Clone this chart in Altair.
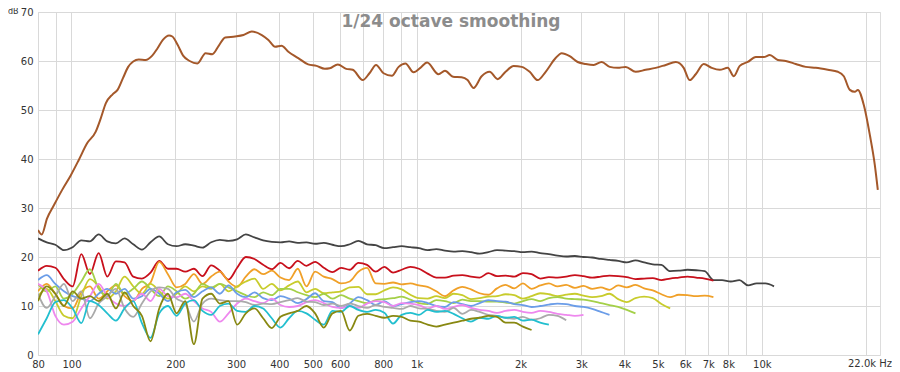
import altair as alt
import pandas as pd

# ---------------- data ----------------
# 1/12-octave frequency grid (Hz) shared by the measurement traces
freq_grid = [80, 84.8, 89.8, 95.1, 100.8, 106.8, 113.1, 119.9, 127.0, 134.5, 142.5, 151.0,
             160.0, 169.5, 179.6, 190.3, 201.6, 213.6, 226.3, 239.7, 254.0, 269.1, 285.1, 302.0,
             320.0, 339.0, 359.2, 380.5, 403.2, 427.1, 452.5, 479.5, 508.0, 538.2, 570.2, 604.1,
             640.0, 678.0, 718.4, 761.1, 806.3, 854.3, 905.1, 958.9, 1016, 1076, 1140, 1208,
             1280, 1356, 1437, 1522, 1613, 1709, 1810, 1918, 2032, 2153, 2281, 2416,
             2560, 2712, 2874, 3044, 3225, 3417, 3620, 3836, 4064, 4305, 4561, 4833,
             5120, 5424, 5747, 6089, 6451, 6834, 7241, 7671, 8127, 8611, 9123, 9665,
             10240, 10850]

dark_gray = [23.8, 23.0, 22.5, 21.4, 22.0, 23.4, 23.2, 24.6, 23.2, 22.8, 23.8, 22.6,
             21.5, 23.0, 24.2, 22.6, 22.2, 22.6, 22.3, 21.9, 23.0, 23.5, 23.3, 23.6,
             24.6, 24.0, 23.4, 23.1, 23.0, 23.2, 22.9, 23.0, 22.7, 22.9, 22.5, 22.2,
             22.6, 23.3, 22.6, 22.4, 21.8, 22.0, 22.2, 22.0, 21.8, 21.4, 21.6, 21.3,
             21.1, 21.2, 21.0, 20.7, 21.0, 21.4, 21.3, 21.2, 21.0, 21.1, 20.8, 20.6,
             20.3, 20.1, 20.2, 20.0, 19.9, 19.6, 19.4, 19.2, 18.9, 19.3, 18.9, 18.5,
             18.4, 17.1, 17.2, 17.4, 17.3, 17.1, 15.3, 15.3, 15.0, 15.3, 14.2, 14.6,
             14.6, 14.0]

red = [17.2, 18.2, 17.8, 15.5, 14.0, 20.6, 16.5, 20.8, 16.0, 19.1, 18.9, 16.0,
       15.6, 16.8, 19.2, 17.6, 17.6, 17.0, 17.6, 16.1, 18.3, 17.2, 15.4, 17.8,
       20.0, 19.6, 18.4, 17.5, 18.8, 17.7, 19.2, 18.2, 19.0, 17.8, 16.9, 17.8,
       17.4, 18.8, 18.4, 17.0, 18.0, 16.8, 17.4, 18.0, 17.6, 16.6, 15.8, 15.8,
       16.2, 16.3, 16.0, 15.8, 16.7, 16.1, 16.2, 16.0, 16.7, 16.5, 15.6, 15.9,
       15.8, 16.0, 16.3, 16.1, 15.8, 16.0, 16.2, 16.1, 15.9, 15.5, 15.6, 15.7,
       15.3, 15.6, 15.8, 16.0, 15.8, 15.6, 15.2]

orange = [13.0, 14.5, 12.5, 10.0, 9.5, 12.8, 14.0, 11.5, 13.0, 14.2, 12.0, 11.0,
          13.5, 14.8, 19.0, 16.5, 13.8, 14.5, 16.5, 14.5, 16.0, 17.0, 15.0, 13.9,
          16.0, 17.5, 16.5, 17.2, 15.8, 15.3, 17.6, 14.0, 17.0, 16.0, 15.5, 14.6,
          15.0, 17.0, 17.8, 14.6, 14.5, 14.8, 14.4, 14.6, 14.2, 13.9, 13.0, 12.0,
          13.2, 13.9, 13.4, 12.6, 12.3, 13.6, 14.3, 13.6, 14.6, 13.5, 14.2, 14.6,
          14.0, 14.3, 13.7, 14.1, 13.5, 13.8, 13.3, 14.2, 13.8, 14.3, 13.6, 13.2,
          12.4, 11.8, 12.3, 12.2, 12.0, 12.1, 11.8]

yellow = [12.0, 13.5, 11.0, 8.0, 7.5, 12.0, 15.5, 14.0, 11.5, 13.0, 16.0, 14.0,
          12.5, 14.5, 13.0, 11.5, 12.5, 14.0, 13.0, 14.0, 13.5, 14.5, 13.0, 14.0,
          15.0, 15.6, 13.5, 14.5, 13.2, 14.2, 15.0, 12.8, 13.5, 12.6, 12.8, 13.0,
          13.8, 13.9, 12.4, 12.4, 13.2, 13.8, 13.4, 12.3, 11.6, 11.5, 12.0, 11.6,
          12.5, 12.2, 11.4, 11.6, 11.9, 12.0, 12.4, 12.2, 11.5, 12.0, 12.6, 12.4,
          12.0, 12.3, 12.5, 12.1, 11.8, 12.0, 12.5, 11.4, 10.8, 11.6, 11.9, 11.6,
          10.4, 9.5]

lime = [14.5, 13.0, 14.0, 11.5, 12.5, 15.0, 17.5, 13.5, 12.0, 14.5, 12.5, 13.5,
        15.0, 13.5, 12.0, 14.0, 13.0, 11.5, 12.5, 14.5, 13.8, 14.5, 13.8, 13.0,
        12.2, 11.8, 12.8, 12.2, 13.5, 13.5, 12.8, 12.2, 11.8, 12.5, 11.5, 12.2,
        11.5, 11.0, 10.6, 11.2, 11.4, 11.6, 11.9, 11.3, 10.6, 10.4, 11.2, 11.0,
        10.6, 11.3, 11.0, 11.0, 10.9, 10.9, 10.7, 10.5, 11.0, 11.4, 11.0, 11.6,
        11.8, 11.5, 11.4, 11.3, 11.0, 10.6, 10.2, 9.8, 9.2, 8.5]

blue = [15.3, 16.3, 14.5, 13.0, 12.0, 11.5, 11.0, 12.5, 13.5, 12.5, 13.5, 11.5,
        12.0, 13.5, 12.5, 11.0, 12.8, 13.3, 11.8, 13.0, 13.8, 12.5, 14.2, 12.5,
        11.8, 12.8, 11.6, 11.2, 12.0, 11.5, 10.6, 11.4, 12.6, 11.0, 10.8, 9.6,
        10.5, 11.8, 11.2, 10.2, 11.0, 10.0, 10.4, 10.8, 11.0, 10.6, 10.0, 9.8,
        10.8, 10.4, 10.0, 10.6, 11.2, 11.0, 10.9, 10.4, 10.2, 9.8, 10.0, 10.3,
        10.5, 10.4, 10.0, 9.8, 9.4, 8.8, 8.2]

pink = [14.5, 13.0, 8.0, 6.2, 6.8, 9.5, 12.0, 14.5, 12.0, 10.5, 10.0, 11.0,
        12.5, 11.0, 13.5, 12.0, 11.8, 12.5, 11.0, 9.5, 8.8, 6.8, 8.5, 10.5,
        11.5, 11.0, 10.6, 11.5, 10.2, 9.8, 10.0, 10.8, 11.2, 10.6, 9.8, 9.6,
        10.0, 9.6, 10.5, 11.0, 10.8, 10.0, 10.6, 10.5, 10.2, 9.5, 10.0, 9.4,
        9.8, 10.2, 9.6, 9.2, 9.0, 8.6, 9.0, 9.2, 8.8, 8.6, 9.0, 8.8,
        8.4, 8.2, 8.0, 8.2]

gray = [12.5, 9.6, 12.0, 14.5, 11.0, 13.0, 7.5, 10.5, 12.0, 13.5, 9.5, 7.8,
        10.5, 13.0, 13.8, 13.5, 11.5, 10.5, 6.8, 10.5, 11.5, 11.2, 11.0, 11.0,
        10.8, 10.2, 10.5, 10.4, 10.8, 11.2, 11.6, 10.9, 10.8, 10.2, 10.5, 10.0,
        10.5, 10.0, 9.6, 10.2, 9.8, 9.6, 9.4, 10.0, 9.5, 9.4, 9.0, 8.8,
        9.6, 8.4, 9.2, 8.8, 8.2, 8.0, 7.6, 7.4, 7.8, 7.2, 7.5, 8.2,
        8.0, 7.1]

cyan = [4.2, 7.5, 10.8, 11.2, 9.5, 6.5, 11.0, 10.2, 8.5, 7.0, 9.5, 11.0,
        6.5, 3.5, 8.5, 10.0, 8.0, 10.5, 11.2, 9.0, 8.2, 10.0, 10.5, 9.0,
        8.8, 10.0, 9.5, 7.5, 5.6, 7.5, 9.0, 8.5, 7.2, 6.2, 9.0, 8.8,
        10.0, 9.2, 8.8, 9.2, 8.6, 6.4, 8.2, 8.6, 8.2, 9.2, 8.8, 9.0,
        8.4, 7.5, 6.8, 7.6, 7.4, 8.0, 7.6, 7.8, 7.0, 7.2, 6.6, 6.2]

olive = [11.0, 14.0, 12.5, 10.0, 13.0, 11.5, 12.0, 11.0, 12.5, 9.5, 12.8, 10.0,
         8.0, 2.8, 9.5, 12.5, 8.5, 11.0, 2.2, 11.5, 12.5, 10.5, 11.0, 6.2,
         8.5, 9.5, 7.5, 5.5, 7.8, 8.5, 9.0, 10.0, 8.5, 5.6, 8.5, 9.0,
         5.0, 8.0, 8.4, 8.0, 7.6, 8.0, 7.8, 7.0, 6.8, 6.2, 5.8, 6.2,
         6.6, 7.0, 7.4, 7.6, 8.0, 7.8, 6.6, 6.6, 5.8, 5.1]

# main (brown) response
brown_freq = [80, 82, 85, 89, 94, 99.6, 105, 111, 117.6, 121.6, 125.8, 131.6, 136, 141, 146,
              151, 156.6, 164, 171.4, 177.6, 184, 191.7, 196, 203, 210.6, 220, 231.7, 244.7,
              256, 267, 279, 298, 315, 333, 356, 372, 389, 406, 425, 454, 485, 513, 542, 560,
              591, 625, 653, 698, 730, 763, 802, 848, 887, 928, 980, 1025, 1072, 1157, 1208,
              1275, 1350, 1405, 1462, 1543, 1627, 1717, 1810, 1910, 2015, 2126, 2242, 2365,
              2528, 2631, 2776, 2928, 3089, 3258, 3437, 3626, 3824, 4034, 4311, 4609, 4928,
              5269, 5631, 5940, 6182, 6435, 6788, 7160, 7554, 7969, 8294, 8632, 9105, 9606,
              10134, 10545, 11125, 11736, 12541, 13405, 14333, 15532, 16605, 17282, 17990,
              18597, 18976, 19750, 20560, 21250, 21680]
brown_db = [25.5, 24.6, 27.9, 30.6, 33.7, 36.7, 39.8, 43.2, 45.6, 48.3, 51.4, 53.2, 54.1, 56.5, 58.8,
            59.9, 60.3, 60.2, 61.1, 62.6, 64.3, 65.2, 65.0, 63.3, 61.1, 60.0, 59.5, 61.6,
            61.4, 63.1, 64.8, 65.0, 65.3, 66.0, 65.3, 64.3, 62.9, 63.1, 61.9, 60.6, 59.3, 59.0, 58.4, 58.5,
            59.3, 58.4, 58.2, 56.1, 57.5, 59.2, 57.5, 57.0, 58.8, 59.5, 57.7, 58.6, 59.7, 57.3, 58.0,
            56.8, 56.7, 56.1, 54.5, 56.9, 57.8, 56.3, 57.8, 59.0, 58.8, 57.8, 56.1, 57.8,
            60.6, 61.6, 61.0, 59.8, 59.4, 59.2, 59.8, 58.8, 58.6, 58.8, 57.8, 58.2, 58.6,
            59.2, 59.8, 58.6, 56.1, 57.3, 59.4, 58.6, 58.2, 58.6, 56.9, 59.0, 59.8, 60.8,
            60.8, 61.2, 60.2, 60.0, 59.4, 58.8, 58.6, 58.2, 57.8, 56.9, 54.1,
            53.7, 54.1, 51.0, 44.9, 38.8, 33.7]

series_names = ["dark gray", "red", "orange", "yellow", "lime", "blue", "pink", "gray", "cyan", "olive"]
series_values = [dark_gray, red, orange, yellow, lime, blue, pink, gray, cyan, olive]
series_colors = ["#444444", "#c8101c", "#f0a028", "#c8cc2c", "#a4d048", "#6b9de8", "#ee88ee",
                 "#aaaaaa", "#22bfcf", "#888811"]

grid_freqs = [80, 90, 100, 200, 300, 400, 500, 600, 700, 800, 900, 1000, 2000, 3000, 4000,
              5000, 6000, 7000, 8000, 9000, 10000, 20000]
label_freqs = [80, 100, 200, 300, 400, 500, 600, 800, 1000, 2000, 3000, 4000, 5000, 6000,
               7000, 8000, 10000]
label_texts = ["80", "100", "200", "300", "400", "500", "600", "800", "1k", "2k", "3k", "4k",
               "5k", "6k", "7k", "8k", "10k"]
y_ticks = [0, 10, 20, 30, 40, 50, 60, 70]
end_label = "22.0k Hz"
end_freq = 22000
y_unit = "dB"
title_text = "1/24 octave smoothing"

# ---------------- tables ----------------
rows = []
for name, vals in zip(series_names, series_values):
    for f, v in zip(freq_grid, vals):
        rows.append({"series": name, "freq": f, "db": v})
noisy = pd.DataFrame(rows)
brown_df = pd.DataFrame({"freq": brown_freq, "db": brown_db})

W, H = 842, 343
FONT = "DejaVu Sans"
x_scale = alt.Scale(type="log", domain=[80, end_freq], nice=False)
y_scale = alt.Scale(domain=[0, 70], nice=False, zero=False)

label_expr = " : ".join(
    f"datum.value == {f} ? '{t}'" for f, t in zip(label_freqs, label_texts)
) + " : ''"

x_axis = alt.Axis(values=grid_freqs, labelExpr=label_expr, grid=True, gridColor="#d9d9d9",
                  gridWidth=1, ticks=False, domain=False, labelPadding=4, labelFontSize=10,
                  labelFont=FONT, labelColor="#333333", labelOverlap=False, title=None,
                  labelBound=False, labelFlush=False)
y_axis = alt.Axis(values=y_ticks, grid=True, gridColor="#d9d9d9", gridWidth=1, ticks=False,
                  domain=False, labelPadding=5, labelFontSize=10, labelFont=FONT,
                  labelColor="#333333", title=None)

lines = alt.Chart(noisy).mark_line(strokeWidth=1.8, clip=True, interpolate="monotone").encode(
    x=alt.X("freq:Q", scale=x_scale, axis=x_axis),
    y=alt.Y("db:Q", scale=y_scale, axis=y_axis),
    color=alt.Color("series:N", scale=alt.Scale(domain=series_names, range=series_colors),
                    legend=None),
)

main = alt.Chart(brown_df).mark_line(strokeWidth=2, color="#a4582a", interpolate="monotone",
                                     clip=True).encode(
    x=alt.X("freq:Q", scale=x_scale),
    y=alt.Y("db:Q", scale=y_scale),
)

title = alt.Chart(pd.DataFrame({"t": [title_text]})).mark_text(
    font=FONT, fontSize=17, fontWeight="bold", color="#8c8c8c", align="center",
    baseline="alphabetic").encode(x=alt.value(W / 2 - 8), y=alt.value(15), text="t:N")

unit = alt.Chart(pd.DataFrame({"t": [y_unit]})).mark_text(
    font=FONT, fontSize=8, color="#333333", align="left", baseline="middle").encode(
    x=alt.value(-30), y=alt.value(0), text="t:N")

end = alt.Chart(pd.DataFrame({"t": [end_label]})).mark_text(
    font=FONT, fontSize=10, color="#333333", align="right", baseline="top").encode(
    x=alt.value(W + 12), y=alt.value(H + 4), text="t:N")

chart = alt.layer(lines, main, title, unit, end).properties(
    width=W, height=H,
    autosize=alt.AutoSizeParams(type="none"),
    padding={"left": 30, "top": 4, "right": 12, "bottom": 17},
).configure_view(stroke="#b4b4b4", strokeWidth=1.5).configure(background="white")

chart.save("out.html", embed_options={"renderer": "svg", "actions": False})
